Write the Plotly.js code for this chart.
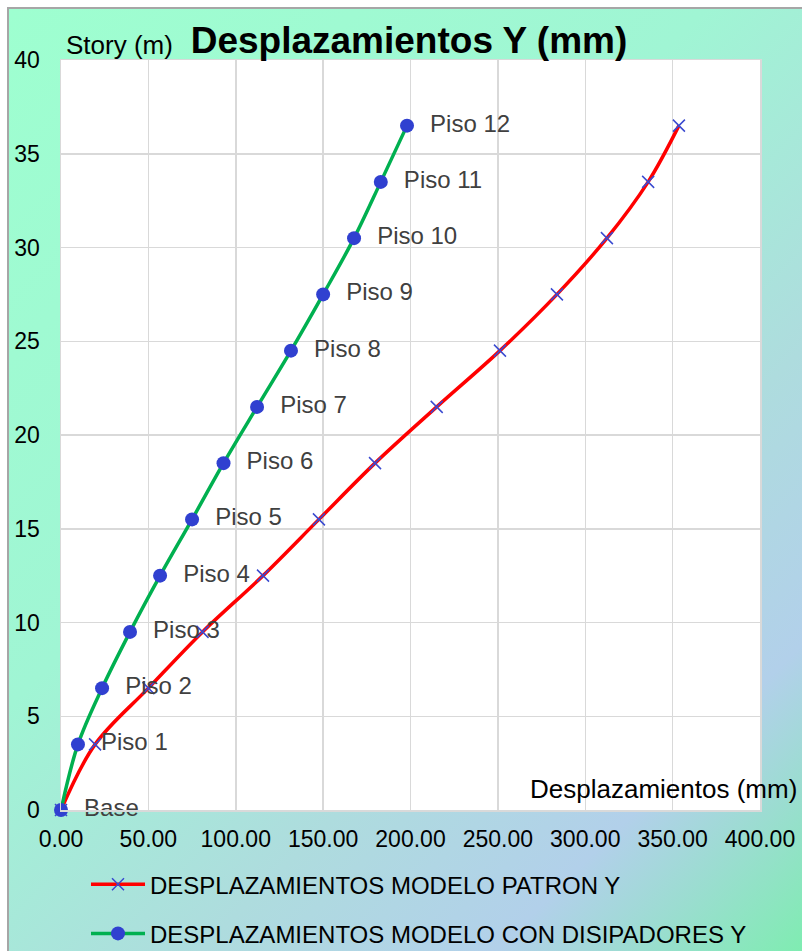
<!DOCTYPE html>
<html>
<head>
<meta charset="utf-8">
<script src="https://cdn.plot.ly/plotly-3.0.1.min.js"></script>
<style>
  html, body { margin: 0; padding: 0; background: #ffffff; }
  #wrap { position: relative; width: 802px; height: 951px; overflow: hidden; background: #ffffff; }
  #bg { position: absolute; left: 7px; top: 7px; right: -4px; bottom: -4px;
        border-left: 2px solid #a6a6a6; border-top: 2px solid #a6a6a6;
        background: linear-gradient(135deg, #9effd0 0%, #a0f5d4 40%, #aedcde 65%, #b2d0ea 82%, #7eedb0 100%); }
  #chart { position: absolute; left: 0; top: 0; width: 802px; height: 951px; }
</style>
</head>
<body>
<div id="wrap"><div id="bg"></div><div id="chart"></div></div>
<script>
// Story heights (m)
const heights = [0, 3.5, 6.5, 9.5, 12.5, 15.5, 18.5, 21.5, 24.5, 27.5, 30.5, 33.5, 36.5];
// Story labels
const storyLabels = ["Base", "Piso 1", "Piso 2", "Piso 3", "Piso 4", "Piso 5", "Piso 6",
                     "Piso 7", "Piso 8", "Piso 9", "Piso 10", "Piso 11", "Piso 12"];
// Displacements, pattern model (mm)
const dispPatron = [0, 19.5, 50, 81, 115.6, 147.6, 179.7, 215, 251.2, 283.8, 312.4, 336, 353.6];
// Displacements, model with dampers (mm)
const dispDisipadores = [0, 9.7, 23.5, 39.5, 56.7, 75, 93, 112.2, 131.6, 150, 167.7, 183, 198];
// Series names
const namePatron = "DESPLAZAMIENTOS MODELO PATRON Y";
const nameDisip = "DESPLAZAMIENTOS MODELO CON DISIPADORES Y";

const FONT = '"Liberation Sans", Arial, sans-serif';

const traces = [
  {
    x: dispPatron, y: heights, name: namePatron, type: 'scatter', mode: 'lines+markers',
    legendgroup: 'a', cliponaxis: false,
    line: { color: '#ff0000', width: 3.5, shape: 'spline' },
    marker: { symbol: 'x-thin', size: 12, color: '#3a4ad0', line: { color: '#3a4ad0', width: 1.5 } },
    hoverinfo: 'x+y'
  },
  {
    x: dispDisipadores, y: heights, name: nameDisip, type: 'scatter', mode: 'lines+markers+text',
    legendgroup: 'b', cliponaxis: false,
    text: storyLabels.map(s => '\u00a0\u00a0' + s), textposition: 'middle right',
    textfont: { family: FONT, size: 24, color: '#404040' },
    line: { color: '#00b050', width: 3.5, shape: 'spline' },
    marker: { symbol: 'circle', size: 14, color: '#3040d0' },
    hoverinfo: 'x+y'
  }
];

const layout = {
  width: 802, height: 951,
  paper_bgcolor: 'rgba(0,0,0,0)',
  plot_bgcolor: '#ffffff',
  margin: { l: 61, r: 42, t: 60, b: 141, pad: 0, autoexpand: false },
  font: { family: FONT, size: 23, color: '#000000' },
  title: {
    text: 'Desplazamientos Y (mm)',
    font: { family: FONT, size: 37, color: '#000000', weight: 'bold' },
    x: 409 / 802, xanchor: 'center', xref: 'container',
    y: 1 - 40 / 951, yanchor: 'middle', yref: 'container'
  },
  xaxis: {
    range: [0, 400], dtick: 50, tick0: 0, tickformat: '.2f',
    showgrid: true, gridcolor: '#d9d9d9', gridwidth: 1.5,
    showline: true, linecolor: '#d9d9d9', linewidth: 1.5, mirror: true,
    zeroline: false, ticks: '', ticklabelstandoff: 8,
    tickfont: { family: FONT, size: 23, color: '#000000' },
    fixedrange: true, automargin: false
  },
  yaxis: {
    range: [0, 40], dtick: 5, tick0: 0,
    showgrid: true, gridcolor: '#d9d9d9', gridwidth: 1.5,
    showline: true, linecolor: '#d9d9d9', linewidth: 1.5, mirror: true,
    zeroline: false, ticks: '', ticklabelstandoff: 15,
    tickfont: { family: FONT, size: 23, color: '#000000' },
    fixedrange: true, automargin: false
  },
  showlegend: true,
  legend: {
    orientation: 'v', x: (86 - 61) / 699, xanchor: 'left',
    y: -0.0695, yanchor: 'top',
    bgcolor: 'rgba(0,0,0,0)', borderwidth: 0,
    font: { family: FONT, size: 24, color: '#000000' },
    traceorder: 'grouped', tracegroupgap: 15,
    itemwidth: 54
  },
  annotations: [
    {
      text: 'Story (m)', xref: 'paper', yref: 'paper',
      x: (64 - 61) / 699, xanchor: 'left', y: (810.5 - 45) / 750.5, yanchor: 'middle',
      showarrow: false, font: { family: FONT, size: 26, color: '#000000' }
    },
    {
      text: 'Desplazamientos (mm)', xref: 'paper', yref: 'paper',
      x: (799 - 61) / 699, xanchor: 'right', y: (810.5 - 789) / 750.5, yanchor: 'middle',
      showarrow: false, font: { family: FONT, size: 26, color: '#000000' }
    }
  ]
};

Plotly.newPlot('chart', traces, layout, { displayModeBar: false, staticPlot: true });
</script>
</body>
</html>
